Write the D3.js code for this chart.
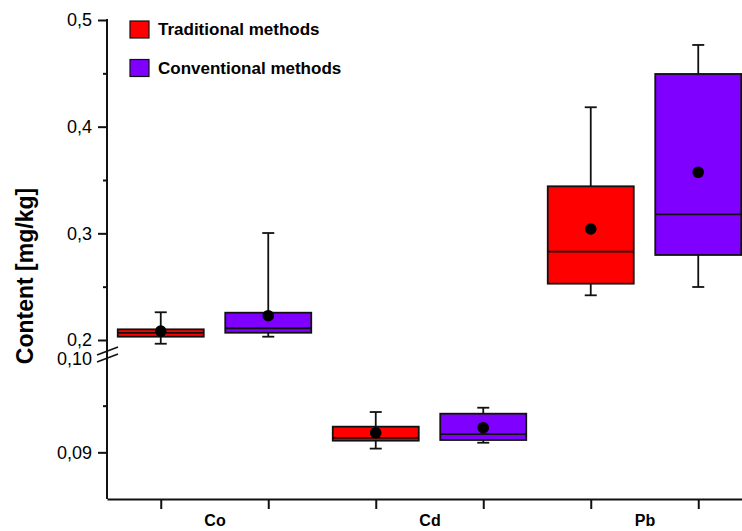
<!DOCTYPE html>
<html>
<head>
  <style>
    body { margin: 0; background: #fff; }
    svg text { font-family: Arial, "Liberation Sans", sans-serif; fill: #000; }
  </style>
</head>
<body>
<svg id="chart" width="742" height="531"></svg>
<script src="https://cdn.jsdelivr.net/npm/d3@7"></script>
<script>
  // categories and series
  const categories = ["Co", "Cd", "Pb"];
  const methods = ["Traditional methods", "Conventional methods"];
  const colors = ["#ff0000", "#7f00ff"];

  // box stats per category: [low whisker, Q1, median, Q3, high whisker]
  const traditionalBoxes = [
    [0.1965, 0.2031, 0.2066, 0.2100, 0.2260],
    [0.0904, 0.09125, 0.09154, 0.09275, 0.09432],
    [0.2419, 0.2528, 0.2828, 0.3441, 0.4182]
  ];
  const conventionalBoxes = [
    [0.2031, 0.2068, 0.2110, 0.2256, 0.3003],
    [0.09103, 0.09132, 0.09196, 0.09414, 0.09478],
    [0.2497, 0.2797, 0.3178, 0.4494, 0.4766]
  ];
  const traditionalMeans = [0.2084, 0.0921, 0.3041];
  const conventionalMeans = [0.2228, 0.09264, 0.3572];

  // upper / lower segment of the broken y axis
  const upperTicks = [0.2, 0.3, 0.4, 0.5];
  const upperMinor = [0.25, 0.35, 0.45];
  const lowerTicks = [0.09, 0.10];
  const lowerMinor = [0.095];
  const segment = ["upper", "lower", "upper"];

  const locale = d3.formatLocale({decimal: ",", thousands: ".", grouping: [3], currency: ["", ""]});

  const svg = d3.select("#chart");

  const x = d3.scaleLinear().domain([0.5, 6.5]).range([107, 752]);
  const yUp = d3.scaleLinear().domain([0.2, 0.5]).range([340, 20]);
  const yLow = d3.scaleLinear().domain([0.085, 0.10]).range([499, 359]);
  const yFor = i => segment[i] === "upper" ? yUp : yLow;

  const boxW = x(1.8) - x(1);
  const capW = 12;
  const ink = "#111";

  // boxes
  const series = [
    {boxes: traditionalBoxes, means: traditionalMeans, color: colors[0], offset: 0},
    {boxes: conventionalBoxes, means: conventionalMeans, color: colors[1], offset: 1}
  ];

  const marks = svg.append("g");
  series.forEach(s => {
    s.boxes.forEach((b, i) => {
      const y = yFor(i);
      const cx = x(i * 2 + 1 + s.offset);
      const g = marks.append("g");
      g.append("line")
        .attr("x1", cx).attr("x2", cx)
        .attr("y1", y(b[3])).attr("y2", y(b[4]))
        .attr("stroke", ink).attr("stroke-width", 1.8);
      g.append("line")
        .attr("x1", cx).attr("x2", cx)
        .attr("y1", y(b[1])).attr("y2", y(b[0]))
        .attr("stroke", ink).attr("stroke-width", 1.8);
      [b[0], b[4]].forEach(v => {
        g.append("line")
          .attr("x1", cx - capW / 2).attr("x2", cx + capW / 2)
          .attr("y1", y(v)).attr("y2", y(v))
          .attr("stroke", ink).attr("stroke-width", 1.8);
      });
      g.append("rect")
        .attr("x", cx - boxW / 2)
        .attr("y", y(b[3]))
        .attr("width", boxW)
        .attr("height", y(b[1]) - y(b[3]))
        .attr("fill", s.color)
        .attr("stroke", ink).attr("stroke-width", 1.8);
      g.append("line")
        .attr("x1", cx - boxW / 2).attr("x2", cx + boxW / 2)
        .attr("y1", y(b[2])).attr("y2", y(b[2]))
        .attr("stroke", ink).attr("stroke-width", 1.8);
      g.append("circle")
        .attr("cx", cx).attr("cy", y(s.means[i]))
        .attr("r", 5.8)
        .attr("fill", "#000");
    });
  });

  // y axes
  const fmt1 = locale.format(".1f");
  const fmt2 = locale.format(".2f");
  const axisX = x.range()[0];

  const upAxis = svg.append("g")
    .attr("transform", `translate(${axisX},0)`)
    .call(d3.axisLeft(yUp).tickValues(upperTicks).tickFormat(fmt1).tickSize(9).tickPadding(6));
  const upMinor = svg.append("g")
    .attr("transform", `translate(${axisX},0)`)
    .call(d3.axisLeft(yUp).tickValues(upperMinor).tickFormat("").tickSize(4));
  const lowAxis = svg.append("g")
    .attr("transform", `translate(${axisX},0)`)
    .call(d3.axisLeft(yLow).tickValues(lowerTicks).tickFormat(fmt2).tickSize(9).tickPadding(6));
  const lowMinor = svg.append("g")
    .attr("transform", `translate(${axisX},0)`)
    .call(d3.axisLeft(yLow).tickValues(lowerMinor).tickFormat("").tickSize(4));

  [upAxis, upMinor, lowAxis, lowMinor].forEach(g => {
    g.select(".domain").remove();
    g.selectAll("line").attr("stroke", ink).attr("stroke-width", 2);
    g.selectAll("text").style("font-size", "18px").attr("fill", "#111");
  });
  // no tick line for the 0,10 label at the break
  lowAxis.selectAll(".tick").filter(d => d === 0.10).select("line").remove();

  svg.append("line")
    .attr("x1", axisX).attr("x2", axisX)
    .attr("y1", yUp(0.5) - 1).attr("y2", yLow(0.085))
    .attr("stroke", ink).attr("stroke-width", 2);

  // break marks
  [351, 358].forEach(by => {
    svg.append("line")
      .attr("x1", axisX - 10).attr("y1", by + 4)
      .attr("x2", axisX + 11).attr("y2", by - 4)
      .attr("stroke", ink).attr("stroke-width", 1.5);
  });

  // x axis
  const xAxis = svg.append("g")
    .attr("transform", `translate(0,${yLow(0.085)})`)
    .call(d3.axisBottom(x).tickValues([1, 2, 3, 4, 5, 6]).tickFormat("").tickSize(10).tickSizeOuter(0));
  xAxis.select(".domain").attr("stroke", ink).attr("stroke-width", 2);
  xAxis.selectAll("line").attr("stroke", ink).attr("stroke-width", 2);

  const catAxis = svg.append("g")
    .attr("transform", `translate(0,${yLow(0.085)})`)
    .call(d3.axisBottom(x).tickValues([1.5, 3.5, 5.5]).tickFormat((d, i) => categories[i]).tickSize(0).tickPadding(16));
  catAxis.select(".domain").remove();
  catAxis.selectAll("text").style("font-size", "16px").style("font-weight", "bold");

  // y title
  svg.append("text")
    .attr("transform", "translate(33,276) rotate(-90)")
    .attr("text-anchor", "middle")
    .style("font-size", "23px")
    .style("font-weight", "bold")
    .text("Content [mg/kg]");

  // legend
  const legend = svg.append("g");
  methods.forEach((m, i) => {
    legend.append("rect")
      .attr("x", 130).attr("y", 21 + i * 38.5)
      .attr("width", 19).attr("height", 17)
      .attr("fill", colors[i])
      .attr("stroke", ink).attr("stroke-width", 1.2);
    legend.append("text")
      .attr("x", 158).attr("y", 35 + i * 39)
      .style("font-size", "17px")
      .style("font-weight", "bold")
      .text(m);
  });
</script>
</body>
</html>
